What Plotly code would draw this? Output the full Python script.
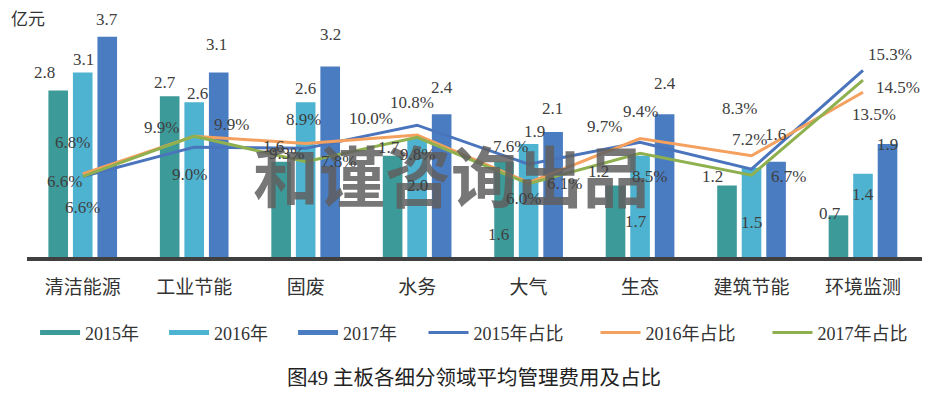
import plotly.graph_objects as go

categories = ["清洁能源", "工业节能", "固废", "水务", "大气", "生态", "建筑节能", "环境监测"]
years = ["2015年", "2016年", "2017年"]
fee_2015 = [2.8, 2.7, 1.6, 1.7, 1.6, 1.2, 1.2, 0.7]
fee_2016 = [3.1, 2.6, 2.6, 2.0, 1.9, 1.7, 1.5, 1.4]
fee_2017 = [3.7, 3.1, 3.2, 2.4, 2.1, 2.4, 1.6, 1.9]
share_2015 = [6.6, 9.0, 8.9, 10.8, 7.6, 9.4, 7.2, 15.3]
share_2016 = [6.8, 9.9, 9.3, 10.0, 6.1, 9.7, 8.3, 13.5]
share_2017 = [6.6, 9.9, 7.8, 9.8, 6.0, 8.5, 6.7, 14.5]
share_names = ["2015年占比", "2016年占比", "2017年占比"]
title_text = "图49 主板各细分领域平均管理费用及占比"
unit_text = "亿元"
watermark_text = "和谨咨询出品"

FONT = "'Liberation Serif', 'Noto Sans CJK SC', serif"
LBL = "#404040"
bar_colors = ["#3C9A99", "#4EB3D0", "#4A7CC2"]
line_colors = ["#4A74BC", "#F4A05E", "#8FB04E"]

# label placement offsets (pixels, dx right / dy down) relative to each mark
bar_slot_shift = [-24.5, 0, 24.5]
bar_label_offsets = [
    [(-14, -18), (-5, -14), (-8, -15), (-4, -8), (-6, 73), (-17, -14), (-15, -9), (-9, -2)],
    [(1, -13), (3, -9), (0, -14), (0, 47), (6, -12), (-4, 66), (0, 55), (0, 21)],
    [(0, -17), (-2, -28), (0, -32), (0, -27), (-1, -24), (0, -31), (-1, -27), (0, 1)],
]
share_label_offsets = [
    [(-18, 5), (-5, 27), (-2, -29), (-5, -23), (-18, -18), (0, -31), (-2, -30), (27, -16)],
    [(-10, -32), (37, -12), (-19, 10), (-46, -16), (36, 1), (-36, -12), (-12, -47), (11, 22)],
    [(0, 31), (-33, -9), (33, 0), (0, 17), (-5, 15), (9, 23), (37, 1), (35, 7)],
]

fig = go.Figure()
for name, vals, col in zip(years, [fee_2015, fee_2016, fee_2017], bar_colors):
    fig.add_trace(go.Bar(x=categories, y=vals, name=name,
                         marker=dict(color=col, line=dict(width=0)), showlegend=False))

for name, vals, col in zip(share_names, [share_2015, share_2016, share_2017], line_colors):
    fig.add_trace(go.Scatter(x=categories, y=vals, name=name, yaxis="y2", mode="lines",
                             line=dict(color=col, width=3), cliponaxis=False, showlegend=False))

# watermark first, so that the value labels sit on top of it
fig.add_annotation(text=f"<b>{watermark_text}</b>", xref="paper", yref="paper", x=0.474, y=0.355,
                   xanchor="center", yanchor="middle", showarrow=False,
                   font=dict(family="'Noto Sans CJK SC', sans-serif", size=66, color="rgba(95,95,95,0.85)"))

lab_font = dict(family=FONT, size=17, color=LBL)
for vals, shift, offs in zip([fee_2015, fee_2016, fee_2017], bar_slot_shift, bar_label_offsets):
    for cat, v, (dx, dy) in zip(categories, vals, offs):
        fig.add_annotation(x=cat, y=v, xref="x", yref="y", text=f"{v:.1f}", showarrow=False,
                           xanchor="center", yanchor="middle", xshift=shift + dx, yshift=-dy,
                           font=lab_font)
for vals, offs in zip([share_2015, share_2016, share_2017], share_label_offsets):
    for cat, v, (dx, dy) in zip(categories, vals, offs):
        fig.add_annotation(x=cat, y=v, xref="x", yref="y2", text=f"{v:.1f}%", showarrow=False,
                           xanchor="center", yanchor="middle", xshift=dx, yshift=-dy,
                           font=lab_font)

# legend entries (line-style keys as in the reference)
for name, col in zip(years, bar_colors):
    fig.add_trace(go.Scatter(x=[None], y=[None], name=name, mode="lines",
                             line=dict(color=col, width=5), showlegend=True, legend="legend"))
for name, col in zip(share_names, line_colors):
    fig.add_trace(go.Scatter(x=[None], y=[None], name=name, mode="lines",
                             line=dict(color=col, width=3), showlegend=True, legend="legend2"))

fig.add_annotation(text=unit_text, xref="paper", yref="paper", x=-0.02, y=0.996,
                   xanchor="left", yanchor="middle", showarrow=False,
                   font=dict(family=FONT, size=17, color="#333333"))
fig.add_annotation(text=title_text, xref="paper", yref="paper", x=0.4995, y=-0.508,
                   xanchor="center", yanchor="middle", showarrow=False,
                   font=dict(family=FONT, size=20.5, color="#222222"))

leg_font = dict(family=FONT, size=18, color="#333333")
fig.update_layout(
    width=937, height=391,
    margin=dict(l=19, r=23, t=11, b=142, autoexpand=False),
    paper_bgcolor="white", plot_bgcolor="white",
    barmode="group", bargap=0.34, bargroupgap=0.2,
    xaxis=dict(showline=True, linecolor="#404040", linewidth=4, ticks="outside",
               ticklen=10, tickcolor="rgba(0,0,0,0)", showgrid=False,
               tickfont=dict(family=FONT, size=19, color="#333333")),
    yaxis=dict(range=[0, 4], visible=False, showgrid=False),
    yaxis2=dict(range=[0, 19.5], overlaying="y", side="right", visible=False, showgrid=False),
    legend=dict(orientation="h", x=0.009, y=-0.319, xanchor="left", yanchor="middle",
                font=leg_font, itemwidth=40, entrywidth=74, traceorder="normal"),
    legend2=dict(orientation="h", x=0.443, y=-0.319, xanchor="left", yanchor="middle",
                 font=leg_font, itemwidth=40, entrywidth=117, traceorder="normal"),
    showlegend=True,
)

fig.write_html("out.html")
